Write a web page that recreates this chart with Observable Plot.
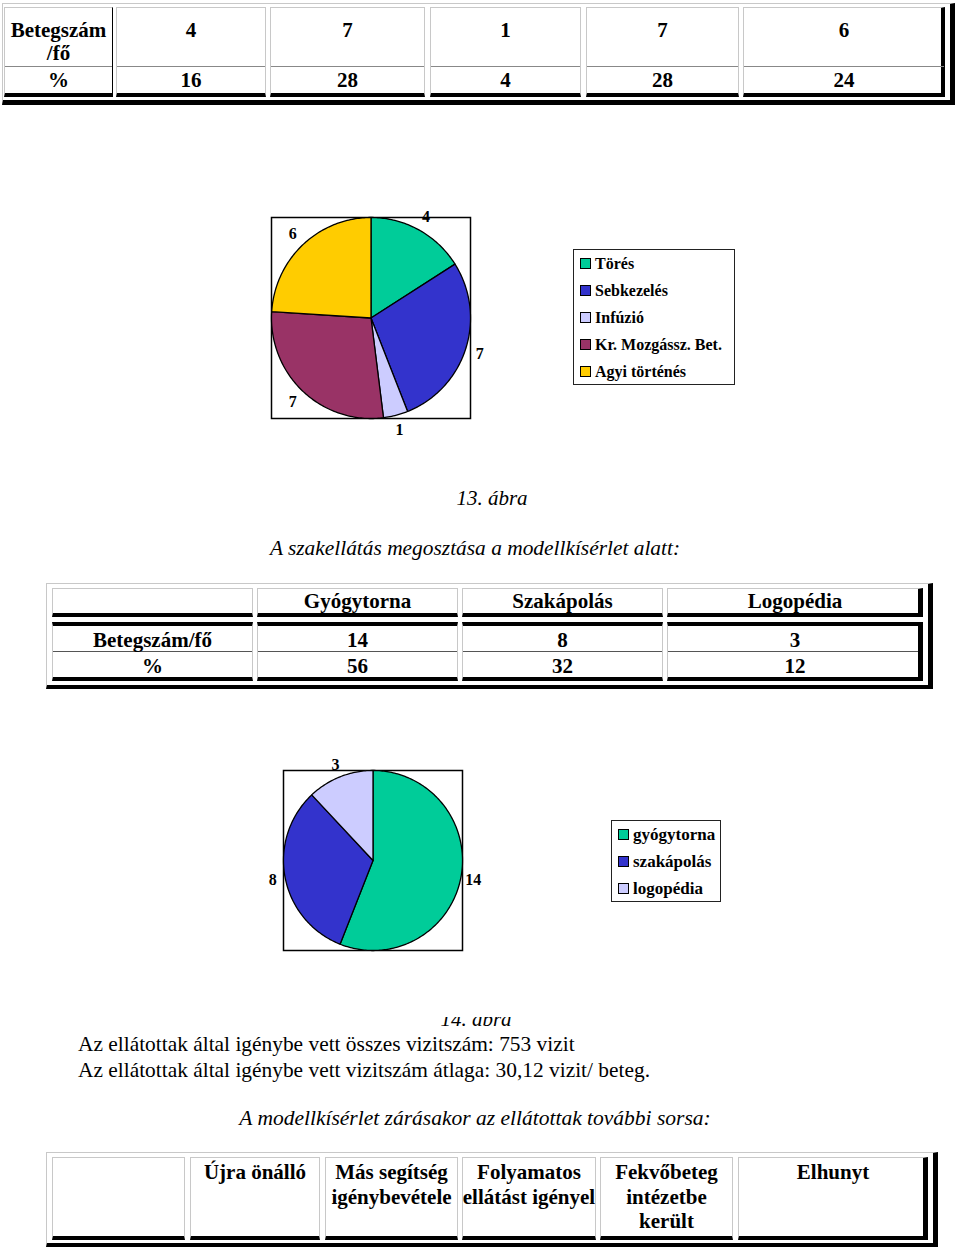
<!DOCTYPE html>
<html><head><meta charset="utf-8">
<script src="https://cdn.jsdelivr.net/npm/d3@7"></script>
<script src="https://cdn.jsdelivr.net/npm/@observablehq/plot@0.6"></script>
<style>
html,body{margin:0;padding:0;background:#fff;}
#page{position:relative;width:960px;height:1248px;overflow:hidden;font-family:"Liberation Serif","Times New Roman",serif;color:#000;background:#fff;}
.box{position:absolute;box-sizing:border-box;}
.t{position:absolute;white-space:nowrap;}
</style></head><body><div id="page"></div>
<script>
// ---------- data ----------
const injuryCategories = ["Törés", "Sebkezelés", "Infúzió", "Kr. Mozgássz. Bet.", "Agyi történés"];
const injuryCounts = [4, 7, 1, 7, 6];
const injuryPercents = [16, 28, 4, 28, 24];
const injuryColors = ["#00cc99", "#3333cc", "#ccccff", "#993366", "#ffcc00"];

const careCategories = ["Gyógytorna", "Szakápolás", "Logopédia"];
const careLegendLabels = ["gyógytorna", "szakápolás", "logopédia"];
const careCounts = [14, 8, 3];
const carePercents = [56, 32, 12];
const careColors = ["#00cc99", "#3333cc", "#ccccff"];

const rowLabelCount = "Betegszám/fő";
const rowLabelPercent = "%";
const outcomeHeaders = [["Újra önálló"], ["Más segítség", "igénybevétele"], ["Folyamatos", "ellátást igényel"], ["Fekvőbeteg", "intézetbe", "került"], ["Elhunyt"]];

const caption13 = "13. ábra";
const caption14 = "14. ábra";
const title2 = "A szakellátás megosztása a modellkísérlet alatt:";
const bodyLine1 = "Az ellátottak által igénybe vett összes vizitszám: 753 vizit";
const bodyLine2 = "Az ellátottak által igénybe vett vizitszám átlaga: 30,12 vizit/ beteg.";
const title3 = "A modellkísérlet zárásakor az ellátottak további sorsa:";

// ---------- helpers ----------
const page = document.getElementById("page");
function box(x0, y0, x1, y1, style) {
  const d = document.createElement("div");
  d.className = "box";
  Object.assign(d.style, {left: x0 + "px", top: y0 + "px", width: (x1 - x0) + "px", height: (y1 - y0) + "px"}, style || {});
  page.appendChild(d);
  return d;
}
function text(str, x, cy, opts) {
  const o = Object.assign({size: 21, weight: "bold", style: "normal", anchor: "middle", lh: 24}, opts || {});
  const d = document.createElement("div");
  d.className = "t";
  d.textContent = str;
  Object.assign(d.style, {
    fontSize: o.size + "px", fontWeight: o.weight, fontStyle: o.style, lineHeight: o.lh + "px",
    top: (cy - o.lh / 2) + "px"
  });
  if (o.anchor === "middle") { d.style.left = (x - 400) + "px"; d.style.width = "800px"; d.style.textAlign = "center"; }
  else { d.style.left = x + "px"; }
  (o.parent || page).appendChild(d);
  return d;
}
const GRAY = "1px solid #c8c8c8";

// ---------- table 1 (top) ----------
box(2, 3, 955, 105, {borderTop: GRAY, borderLeft: GRAY, borderRight: "5px solid #000", borderBottom: "5px solid #000"});
const t1cols = [[4, 113], [116, 266], [270, 425], [430, 581], [586, 739], [743, 945]];
t1cols.forEach(([a, b], i) => {
  box(a, 7, b, 97, {border: GRAY, borderBottom: "4px solid #000",
    borderRight: i === 0 ? "1px solid #000" : (i === t1cols.length - 1 ? "4px solid #000" : GRAY)});
  box(a + 1, 66, b - 1, 67, {background: "#888"});
  const cx = (a + b) / 2;
  if (i === 0) {
    text("Betegszám", cx, 30); text("/fő", cx, 53); text(rowLabelPercent, cx, 80);
  } else {
    text(String(injuryCounts[i - 1]), cx, 30);
    text(String(injuryPercents[i - 1]), cx, 80);
  }
});

// ---------- pie helper ----------
function pie(names, values, colors, cfg) {
  const arcs = d3.pie().sort(null).value(d => d)(values);
  const poly = [];
  arcs.forEach((a, i) => {
    const n = Math.max(2, Math.ceil((a.endAngle - a.startAngle) / (Math.PI / 180)));
    poly.push({name: names[i], x: 0, y: 0});
    for (let k = 0; k <= n; k++) {
      const t = a.startAngle + (a.endAngle - a.startAngle) * k / n;
      poly.push({name: names[i], x: Math.sin(t), y: Math.cos(t)});
    }
  });
  const labels = arcs.map((a, i) => {
    const m = (a.startAngle + a.endAngle) / 2;
    return {x: cfg.lr * Math.sin(m), y: cfg.lr * Math.cos(m), v: values[i]};
  });
  const svg = Plot.plot({
    width: cfg.width, height: cfg.height,
    marginLeft: cfg.ml, marginRight: cfg.mr, marginTop: cfg.mt, marginBottom: cfg.mb,
    x: {domain: [-1, 1], axis: null},
    y: {domain: [-1, 1], axis: null},
    color: {domain: names, range: colors},
    style: {fontFamily: "Liberation Serif, serif", background: "transparent", overflow: "visible"},
    marks: [
      Plot.frame({stroke: "#000", strokeWidth: 1.5}),
      Plot.line(poly, {x: "x", y: "y", z: "name", fill: "name", stroke: "#000", strokeWidth: 1.3, strokeLinejoin: "round", curve: "linear-closed"}),
      Plot.text(labels, {x: "x", y: "y", text: "v", fontWeight: "bold", fontSize: 16, fill: "#000"})
    ]
  });
  const wrap = document.createElement("div");
  wrap.style.position = "absolute"; wrap.style.left = cfg.left + "px"; wrap.style.top = cfg.top + "px";
  wrap.appendChild(svg);
  page.appendChild(wrap);
}
function legend(names, colors, x0, y0, x1, y1, rows, size) {
  box(x0, y0, x1, y1, {border: "1px solid #222"});
  names.forEach((n, i) => {
    const cy = rows[i];
    box(x0 + 7, cy - 6, x0 + 18, cy + 5, {background: colors[i], border: "1px solid #000"});
    text(n, x0 + 22, cy, {size: size, anchor: "start", lh: 20});
  });
}

// ---------- pie 1 ----------
pie(injuryCategories, injuryCounts, injuryColors,
  {left: 250, top: 190, width: 250, height: 260, ml: 21, mr: 30, mt: 27, mb: 32, lr: 1.15});
legend(injuryCategories, injuryColors, 573, 249, 735, 385, [264, 291, 318, 345, 372], 16);

text(caption13, 492, 498, {weight: "normal", style: "italic"});
text(title2, 475, 548, {weight: "normal", style: "italic", size: 21.4});

// ---------- table 2 ----------
box(46, 583, 933, 689, {borderTop: GRAY, borderLeft: GRAY, borderRight: "5px solid #000", borderBottom: "4px solid #000"});
const t2cols = [[52, 253], [257, 458], [462, 663], [667, 923]];
t2cols.forEach(([a, b], i) => {
  const last = i === t2cols.length - 1;
  box(a, 588, b, 617, {border: GRAY, borderBottom: "4px solid #000", borderRight: last ? "5px solid #000" : GRAY});
  box(a, 622, b, 681, {border: GRAY, borderTop: "4px solid #000", borderBottom: "4px solid #000", borderRight: last ? "5px solid #000" : GRAY});
  box(a + 1, 651, b - (last ? 5 : 1), 652, {background: "#555"});
  const cx = (a + b) / 2;
  if (i === 0) {
    text(rowLabelCount, cx, 640); text(rowLabelPercent, cx, 666);
  } else {
    text(careCategories[i - 1], cx, 601);
    text(String(careCounts[i - 1]), cx, 640);
    text(String(carePercents[i - 1]), cx, 666);
  }
});

// ---------- pie 2 ----------
pie(careLegendLabels, careCounts, careColors,
  {left: 255, top: 740, width: 240, height: 230, ml: 28, mr: 33, mt: 30, mb: 20, lr: 1.14});
legend(careLegendLabels, careColors, 611, 820, 721, 902, [835, 862, 889], 17);

// ---------- clipped caption 14 (as in the scanned page) + body text ----------
const clip = box(376, 1017, 576, 1029, {overflow: "hidden"});
text(caption14, 100, 1007 - 1017 + 12, {weight: "normal", style: "italic", parent: clip});
text(bodyLine1, 78, 1044, {weight: "normal", size: 21.4, anchor: "start", lh: 25});
text(bodyLine2, 78, 1070, {weight: "normal", size: 21.4, anchor: "start", lh: 25});
text(title3, 475, 1118, {weight: "normal", style: "italic", size: 21.5});

// ---------- table 3 ----------
box(46, 1152, 938, 1247, {borderTop: GRAY, borderLeft: GRAY, borderRight: "5px solid #000", borderBottom: "4px solid #000"});
const t3cols = [[52, 185], [190, 320], [325, 458], [462, 596], [600, 733], [738, 928]];
t3cols.forEach(([a, b], i) => {
  const last = i === t3cols.length - 1;
  box(a, 1157, b, 1240, {border: GRAY, borderBottom: "4px solid #000", borderRight: last ? "5px solid #000" : GRAY});
  if (i > 0) {
    const cx = (a + b) / 2;
    outcomeHeaders[i - 1].forEach((line, k) => text(line, cx, 1172 + k * 24.5));
  }
});
</script></body></html>
